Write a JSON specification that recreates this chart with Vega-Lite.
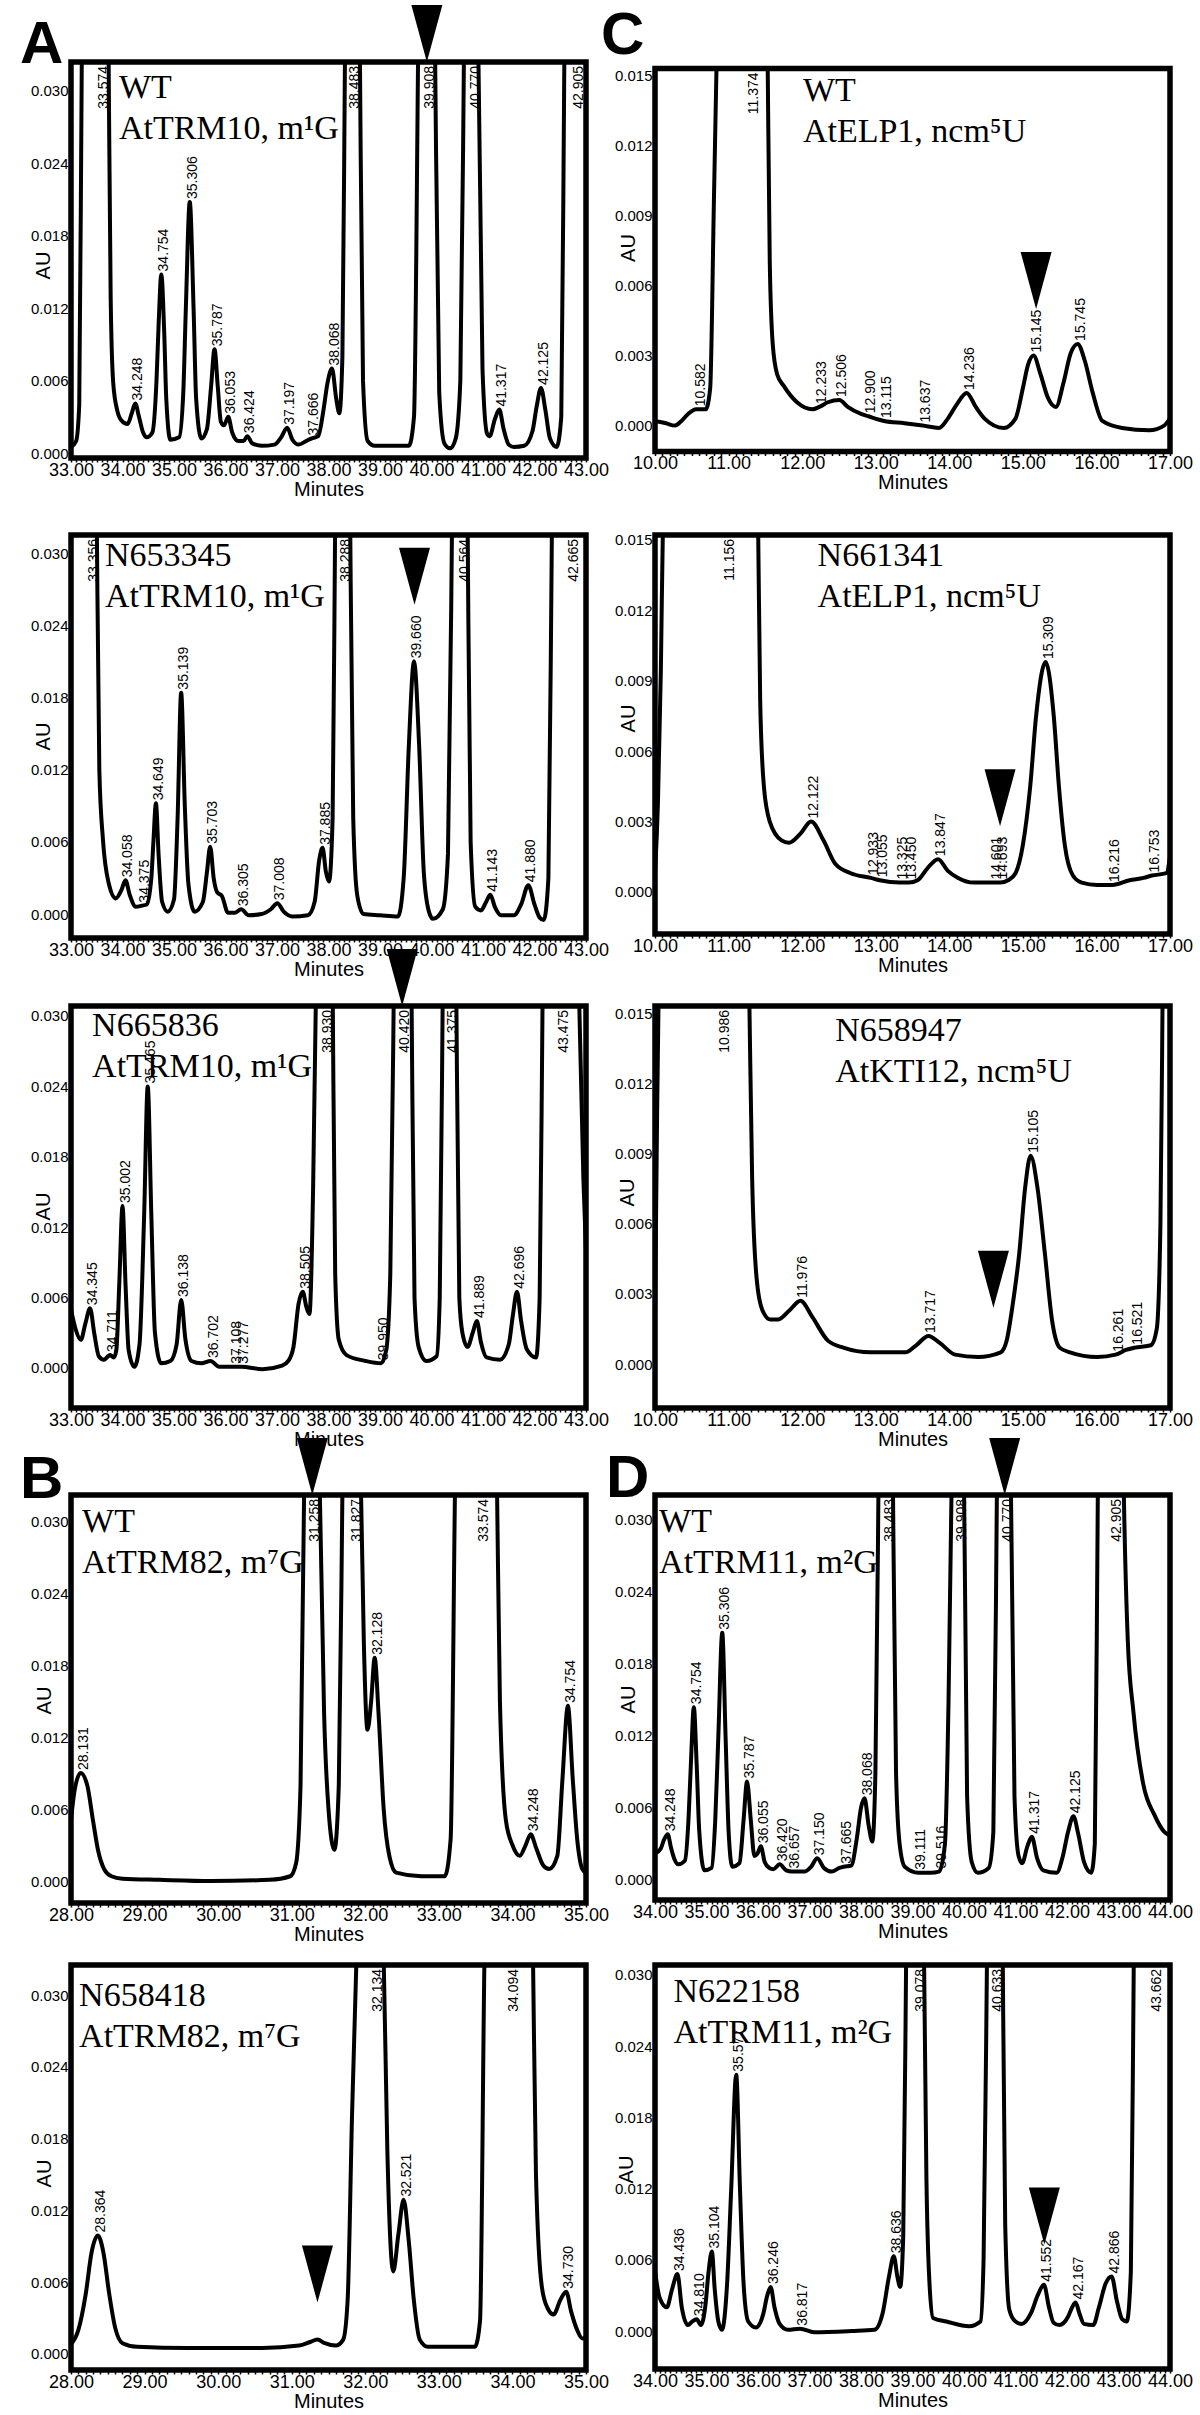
{
"$schema": "https://vega.github.io/schema/vega-lite/v6.json",
"background": "white",
"padding": {"left": 17, "top": 2, "right": 5, "bottom": 0},
"config": {
  "view": {"stroke": "black", "strokeWidth": 5.5},
  "font": "Liberation Sans",
  "axis": {"labelFont": "Liberation Sans", "titleFont": "Liberation Sans", "labelColor": "black", "titleColor": "black", "domain": false, "grid": false, "titleFontWeight": "normal"},
  "axisX": {"labelFontSize": 18, "titleFontSize": 20, "tickColor": "black", "tickSize": 4, "tickWidth": 1.5, "labelPadding": -1, "titlePadding": 0, "labelOverlap": false, "labelFlush": false},
  "axisY": {"labelFontSize": 15, "titleFontSize": 20, "ticks": false, "labelPadding": 3, "titleAngle": 270, "titleAlign": "center", "titleBaseline": "middle", "labelOverlap": false}
},
"columns": 2,
"spacing": {"row": 20, "column": 69},
"bounds": "flush",
"center": true,
"concat": [
{
 "width": 515, "height": 396,
 "data": {"values": [
  {"k":"t","t":33.00,"au":0.0005},{"k":"t","t":33.10,"au":0.0010},{"k":"t","t":33.16,"au":0.0040},{"k":"t","t":33.21,"au":0.033},{"k":"t","t":33.574,"au":0.12},{"k":"t","t":33.73,"au":0.033},{"k":"t","t":33.77,"au":0.013},{"k":"t","t":33.82,"au":0.0058},{"k":"t","t":33.90,"au":0.0035},{"k":"t","t":33.98,"au":0.0027},{"k":"t","t":34.10,"au":0.0024},{"k":"t","t":34.18,"au":0.0033},{"k":"t","t":34.248,"au":0.0041},{"k":"t","t":34.32,"au":0.0030},{"k":"t","t":34.40,"au":0.0017},{"k":"t","t":34.47,"au":0.0013},{"k":"t","t":34.58,"au":0.0017},{"k":"t","t":34.66,"au":0.0060},{"k":"t","t":34.70,"au":0.0105},{"k":"t","t":34.754,"au":0.0148},{"k":"t","t":34.81,"au":0.0100},{"k":"t","t":34.85,"au":0.0045},{"k":"t","t":34.93,"au":0.0011},{"k":"t","t":35.10,"au":0.0013},{"k":"t","t":35.18,"au":0.0050},{"k":"t","t":35.23,"au":0.0120},{"k":"t","t":35.306,"au":0.0208},{"k":"t","t":35.38,"au":0.0120},{"k":"t","t":35.43,"au":0.0045},{"k":"t","t":35.53,"au":0.0012},{"k":"t","t":35.64,"au":0.0020},{"k":"t","t":35.72,"au":0.0055},{"k":"t","t":35.787,"au":0.0086},{"k":"t","t":35.85,"au":0.0055},{"k":"t","t":35.91,"au":0.0026},{"k":"t","t":35.97,"au":0.0023},{"k":"t","t":36.053,"au":0.0030},{"k":"t","t":36.13,"au":0.0017},{"k":"t","t":36.25,"au":0.0010},{"k":"t","t":36.35,"au":0.0010},{"k":"t","t":36.424,"au":0.0014},{"k":"t","t":36.52,"au":0.0008},{"k":"t","t":36.70,"au":0.0006},{"k":"t","t":36.95,"au":0.0007},{"k":"t","t":37.08,"au":0.0013},{"k":"t","t":37.197,"au":0.0021},{"k":"t","t":37.30,"au":0.0011},{"k":"t","t":37.42,"au":0.0007},{"k":"t","t":37.57,"au":0.0010},{"k":"t","t":37.666,"au":0.0012},{"k":"t","t":37.80,"au":0.0014},{"k":"t","t":37.90,"au":0.0035},{"k":"t","t":37.98,"au":0.0058},{"k":"t","t":38.068,"au":0.0070},{"k":"t","t":38.15,"au":0.0045},{"k":"t","t":38.21,"au":0.0033},{"k":"t","t":38.27,"au":0.0080},{"k":"t","t":38.32,"au":0.033},{"k":"t","t":38.483,"au":0.12},{"k":"t","t":38.61,"au":0.033},{"k":"t","t":38.67,"au":0.0060},{"k":"t","t":38.76,"au":0.0010},{"k":"t","t":38.90,"au":0.0006},{"k":"t","t":39.30,"au":0.0006},{"k":"t","t":39.56,"au":0.0006},{"k":"t","t":39.66,"au":0.0030},{"k":"t","t":39.74,"au":0.033},{"k":"t","t":39.908,"au":0.12},{"k":"t","t":40.07,"au":0.033},{"k":"t","t":40.15,"au":0.0050},{"k":"t","t":40.25,"au":0.0008},{"k":"t","t":40.36,"au":0.0004},{"k":"t","t":40.47,"au":0.0012},{"k":"t","t":40.56,"au":0.0060},{"k":"t","t":40.63,"au":0.033},{"k":"t","t":40.78,"au":0.12},{"k":"t","t":40.91,"au":0.033},{"k":"t","t":40.99,"au":0.0070},{"k":"t","t":41.08,"au":0.0016},{"k":"t","t":41.13,"au":0.0014},{"k":"t","t":41.23,"au":0.0028},{"k":"t","t":41.317,"au":0.0036},{"k":"t","t":41.40,"au":0.0020},{"k":"t","t":41.50,"au":0.0007},{"k":"t","t":41.60,"au":0.0005},{"k":"t","t":41.80,"au":0.0006},{"k":"t","t":41.96,"au":0.0018},{"k":"t","t":42.04,"au":0.0038},{"k":"t","t":42.125,"au":0.0054},{"k":"t","t":42.21,"au":0.0036},{"k":"t","t":42.30,"au":0.0012},{"k":"t","t":42.43,"au":0.0005},{"k":"t","t":42.52,"au":0.0030},{"k":"t","t":42.58,"au":0.033},{"k":"t","t":42.905,"au":0.12},{"k":"t","t":43.00,"au":0.12},
  {"k":"p","t":34.248,"au":0.0041,"s":"34.248"},{"k":"p","t":34.754,"au":0.0148,"s":"34.754"},{"k":"p","t":35.306,"au":0.0208,"s":"35.306"},{"k":"p","t":35.787,"au":0.0086,"s":"35.787"},{"k":"p","t":36.053,"au":0.0030,"s":"36.053"},{"k":"p","t":36.424,"au":0.0014,"s":"36.424"},{"k":"p","t":37.197,"au":0.0021,"s":"37.197"},{"k":"p","t":37.666,"au":0.0012,"s":"37.666"},{"k":"p","t":38.068,"au":0.0070,"s":"38.068"},{"k":"p","t":41.317,"au":0.0036,"s":"41.317"},{"k":"p","t":42.125,"au":0.0054,"s":"42.125"},
  {"k":"u","t":33.59,"au":0.0324,"s":"33.574"},{"k":"u","t":38.46,"au":0.0324,"s":"38.483"},{"k":"u","t":39.91,"au":0.0324,"s":"39.908"},{"k":"u","t":40.80,"au":0.0324,"s":"40.770"},{"k":"u","t":42.81,"au":0.0324,"s":"42.905"},
  {"k":"a","t":39.91,"au":0.0324},
  {"k":"c","t":33.93,"au":0.0294,"s":"WT\nAtTRM10, m¹G"},
  {"k":"l","t":32.01,"au":0.0323,"s":"A"}
 ]},
 "layer": [
  {"transform": [{"filter": "datum.k=='t'"}], "mark": {"type": "line", "clip": true, "interpolate": "monotone", "color": "black", "strokeWidth": 4, "strokeJoin": "round"},
   "encoding": {"x": {"field": "t", "type": "quantitative", "scale": {"domain": [33, 43], "nice": false, "zero": false}, "axis": {"title": "Minutes", "tickCount": 100, "labelExpr": "abs(datum.value - round(datum.value)) < 0.001 ? format(datum.value, '.2f') : ''"}},
    "y": {"field": "au", "type": "quantitative", "scale": {"domain": [-0.00041, 0.0324], "nice": false, "zero": false}, "axis": {"title": "AU", "format": ".3f", "values": [0, 0.006, 0.012, 0.018, 0.024, 0.03], "titleX": -28, "titleY": 203}}}},
  {"transform": [{"filter": "datum.k=='p'"}], "mark": {"type": "text", "angle": 270, "align": "left", "baseline": "middle", "dx": 3, "dy": 3, "fontSize": 14, "font": "Liberation Sans", "color": "black"},
   "encoding": {"x": {"field": "t", "type": "quantitative"}, "y": {"field": "au", "type": "quantitative"}, "text": {"field": "s", "type": "nominal"}}},
  {"transform": [{"filter": "datum.k=='u'"}], "mark": {"type": "text", "angle": 270, "align": "right", "baseline": "middle", "dx": -4, "dy": 3, "fontSize": 14, "font": "Liberation Sans", "color": "black"},
   "encoding": {"x": {"field": "t", "type": "quantitative"}, "y": {"field": "au", "type": "quantitative"}, "text": {"field": "s", "type": "nominal"}}},
  {"transform": [{"filter": "datum.k=='a'"}], "mark": {"type": "point", "shape": "M-0.544,-2L0.544,-2L0,0Z", "size": 3249, "filled": true, "color": "black", "opacity": 1, "strokeWidth": 0},
   "encoding": {"x": {"field": "t", "type": "quantitative"}, "y": {"field": "au", "type": "quantitative"}}},
  {"transform": [{"filter": "datum.k=='c'"}], "mark": {"type": "text", "align": "left", "baseline": "alphabetic", "font": "Liberation Serif", "fontSize": 34, "lineBreak": "\n", "lineHeight": 41, "color": "black"},
   "encoding": {"x": {"field": "t", "type": "quantitative"}, "y": {"field": "au", "type": "quantitative"}, "text": {"field": "s", "type": "nominal"}}},
  {"transform": [{"filter": "datum.k=='l'"}], "mark": {"type": "text", "align": "left", "baseline": "alphabetic", "font": "Liberation Sans", "fontSize": 60, "fontWeight": "bold", "color": "black"},
   "encoding": {"x": {"field": "t", "type": "quantitative"}, "y": {"field": "au", "type": "quantitative"}, "text": {"field": "s", "type": "nominal"}}}
 ]
},
{
 "width": 515, "height": 383,
 "data": {"values": [
  {"k":"t","t":10.00,"au":0.0002},{"k":"t","t":10.15,"au":0.0001},{"k":"t","t":10.27,"au":0.0000},{"k":"t","t":10.36,"au":0.0002},{"k":"t","t":10.45,"au":0.0005},{"k":"t","t":10.56,"au":0.0007},{"k":"t","t":10.69,"au":0.0007},{"k":"t","t":10.75,"au":0.0016},{"k":"t","t":10.80,"au":0.0095},{"k":"t","t":10.84,"au":0.016},{"k":"t","t":11.374,"au":0.06},{"k":"t","t":11.53,"au":0.016},{"k":"t","t":11.56,"au":0.0070},{"k":"t","t":11.60,"au":0.0035},{"k":"t","t":11.66,"au":0.0022},{"k":"t","t":11.75,"au":0.0017},{"k":"t","t":11.93,"au":0.0010},{"k":"t","t":12.14,"au":0.0007},{"k":"t","t":12.233,"au":0.0008},{"k":"t","t":12.35,"au":0.0010},{"k":"t","t":12.506,"au":0.0011},{"k":"t","t":12.62,"au":0.0008},{"k":"t","t":12.80,"au":0.0005},{"k":"t","t":12.90,"au":0.0004},{"k":"t","t":13.115,"au":0.0002},{"k":"t","t":13.39,"au":0.0001},{"k":"t","t":13.637,"au":0.0000},{"k":"t","t":13.86,"au":-0.0001},{"k":"t","t":13.98,"au":0.0003},{"k":"t","t":14.10,"au":0.0009},{"k":"t","t":14.236,"au":0.0014},{"k":"t","t":14.36,"au":0.0008},{"k":"t","t":14.48,"au":0.0003},{"k":"t","t":14.74,"au":-0.0001},{"k":"t","t":14.90,"au":0.0003},{"k":"t","t":15.00,"au":0.0016},{"k":"t","t":15.07,"au":0.0026},{"k":"t","t":15.145,"au":0.0030},{"k":"t","t":15.24,"au":0.0022},{"k":"t","t":15.34,"au":0.0012},{"k":"t","t":15.45,"au":0.0008},{"k":"t","t":15.55,"au":0.0018},{"k":"t","t":15.65,"au":0.0031},{"k":"t","t":15.745,"au":0.0035},{"k":"t","t":15.84,"au":0.0028},{"k":"t","t":15.95,"au":0.0014},{"k":"t","t":16.08,"au":0.0002},{"k":"t","t":16.35,"au":-0.0001},{"k":"t","t":16.72,"au":-0.0002},{"k":"t","t":16.92,"au":0.0000},{"k":"t","t":17.00,"au":0.0003},
  {"k":"p","t":10.582,"au":0.0007,"s":"10.582"},{"k":"p","t":12.233,"au":0.0008,"s":"12.233"},{"k":"p","t":12.506,"au":0.0011,"s":"12.506"},{"k":"p","t":12.90,"au":0.0004,"s":"12.900"},{"k":"p","t":13.115,"au":0.0002,"s":"13.115"},{"k":"p","t":13.637,"au":0.0000,"s":"13.637"},{"k":"p","t":14.236,"au":0.0014,"s":"14.236"},{"k":"p","t":15.145,"au":0.0030,"s":"15.145"},{"k":"p","t":15.745,"au":0.0035,"s":"15.745"},
  {"k":"u","t":11.31,"au":0.0153,"s":"11.374"},
  {"k":"a","t":15.18,"au":0.0050},
  {"k":"c","t":12.01,"au":0.0139,"s":"WT\nAtELP1, ncm⁵U"},
  {"k":"l","t":9.266,"au":0.01593,"s":"C"}
 ]},
 "layer": [
  {"transform": [{"filter": "datum.k=='t'"}], "mark": {"type": "line", "clip": true, "interpolate": "monotone", "color": "black", "strokeWidth": 4, "strokeJoin": "round"},
   "encoding": {"x": {"field": "t", "type": "quantitative", "scale": {"domain": [10, 17], "nice": false, "zero": false}, "axis": {"title": "Minutes", "tickCount": 70, "labelExpr": "abs(datum.value - round(datum.value)) < 0.001 ? format(datum.value, '.2f') : ''"}},
    "y": {"field": "au", "type": "quantitative", "scale": {"domain": [-0.00111, 0.0153], "nice": false, "zero": false}, "axis": {"title": "AU", "format": ".3f", "values": [0, 0.003, 0.006, 0.009, 0.012, 0.015], "titleX": -27, "titleY": 179}}}},
  {"transform": [{"filter": "datum.k=='p'"}], "mark": {"type": "text", "angle": 270, "align": "left", "baseline": "middle", "dx": 3, "dy": 3, "fontSize": 14, "font": "Liberation Sans", "color": "black"},
   "encoding": {"x": {"field": "t", "type": "quantitative"}, "y": {"field": "au", "type": "quantitative"}, "text": {"field": "s", "type": "nominal"}}},
  {"transform": [{"filter": "datum.k=='u'"}], "mark": {"type": "text", "angle": 270, "align": "right", "baseline": "middle", "dx": -4, "dy": 3, "fontSize": 14, "font": "Liberation Sans", "color": "black"},
   "encoding": {"x": {"field": "t", "type": "quantitative"}, "y": {"field": "au", "type": "quantitative"}, "text": {"field": "s", "type": "nominal"}}},
  {"transform": [{"filter": "datum.k=='a'"}], "mark": {"type": "point", "shape": "M-0.544,-2L0.544,-2L0,0Z", "size": 3249, "filled": true, "color": "black", "opacity": 1, "strokeWidth": 0},
   "encoding": {"x": {"field": "t", "type": "quantitative"}, "y": {"field": "au", "type": "quantitative"}}},
  {"transform": [{"filter": "datum.k=='c'"}], "mark": {"type": "text", "align": "left", "baseline": "alphabetic", "font": "Liberation Serif", "fontSize": 34, "lineBreak": "\n", "lineHeight": 41, "color": "black"},
   "encoding": {"x": {"field": "t", "type": "quantitative"}, "y": {"field": "au", "type": "quantitative"}, "text": {"field": "s", "type": "nominal"}}},
  {"transform": [{"filter": "datum.k=='l'"}], "mark": {"type": "text", "align": "left", "baseline": "alphabetic", "font": "Liberation Sans", "fontSize": 60, "fontWeight": "bold", "color": "black"},
   "encoding": {"x": {"field": "t", "type": "quantitative"}, "y": {"field": "au", "type": "quantitative"}, "text": {"field": "s", "type": "nominal"}}}
 ]
},
{"width": 515, "height": 37, "data": {"values": []}, "mark": "point", "view": {"stroke": null}},
{"width": 515, "height": 37, "data": {"values": []}, "mark": "point", "view": {"stroke": null}},
{
 "width": 515, "height": 403,
 "data": {"values": [
  {"k":"t","t":33.00,"au":0.03},{"k":"t","t":33.05,"au":0.06},{"k":"t","t":33.356,"au":0.12},{"k":"t","t":33.50,"au":0.033},{"k":"t","t":33.55,"au":0.012},{"k":"t","t":33.62,"au":0.0062},{"k":"t","t":33.73,"au":0.0026},{"k":"t","t":33.87,"au":0.0013},{"k":"t","t":33.98,"au":0.0020},{"k":"t","t":34.058,"au":0.0028},{"k":"t","t":34.14,"au":0.0016},{"k":"t","t":34.26,"au":0.0006},{"k":"t","t":34.375,"au":0.0007},{"k":"t","t":34.47,"au":0.0008},{"k":"t","t":34.56,"au":0.0030},{"k":"t","t":34.60,"au":0.0060},{"k":"t","t":34.649,"au":0.0092},{"k":"t","t":34.70,"au":0.0050},{"k":"t","t":34.77,"au":0.0010},{"k":"t","t":34.88,"au":0.0002},{"k":"t","t":35.00,"au":0.0012},{"k":"t","t":35.07,"au":0.0080},{"k":"t","t":35.139,"au":0.0184},{"k":"t","t":35.21,"au":0.0090},{"k":"t","t":35.28,"au":0.0025},{"k":"t","t":35.40,"au":0.0002},{"k":"t","t":35.56,"au":0.0010},{"k":"t","t":35.64,"au":0.0035},{"k":"t","t":35.703,"au":0.0056},{"k":"t","t":35.77,"au":0.0030},{"k":"t","t":35.84,"au":0.0018},{"k":"t","t":35.93,"au":0.0015},{"k":"t","t":36.05,"au":0.0001},{"k":"t","t":36.18,"au":0.0001},{"k":"t","t":36.305,"au":0.0004},{"k":"t","t":36.45,"au":-0.0001},{"k":"t","t":36.70,"au":0.0000},{"k":"t","t":36.88,"au":0.0004},{"k":"t","t":37.008,"au":0.0009},{"k":"t","t":37.13,"au":0.0002},{"k":"t","t":37.30,"au":-0.0002},{"k":"t","t":37.60,"au":-0.0001},{"k":"t","t":37.73,"au":0.0010},{"k":"t","t":37.82,"au":0.0045},{"k":"t","t":37.885,"au":0.0055},{"k":"t","t":37.95,"au":0.0035},{"k":"t","t":38.01,"au":0.0027},{"k":"t","t":38.08,"au":0.0080},{"k":"t","t":38.13,"au":0.033},{"k":"t","t":38.288,"au":0.12},{"k":"t","t":38.42,"au":0.033},{"k":"t","t":38.48,"au":0.0080},{"k":"t","t":38.56,"au":0.0015},{"k":"t","t":38.68,"au":0.0000},{"k":"t","t":39.00,"au":-0.0001},{"k":"t","t":39.35,"au":-0.0002},{"k":"t","t":39.46,"au":0.0030},{"k":"t","t":39.56,"au":0.0140},{"k":"t","t":39.66,"au":0.0210},{"k":"t","t":39.76,"au":0.0140},{"k":"t","t":39.85,"au":0.0035},{"k":"t","t":39.95,"au":0.0002},{"k":"t","t":40.03,"au":-0.0004},{"k":"t","t":40.22,"au":0.0004},{"k":"t","t":40.32,"au":0.0050},{"k":"t","t":40.40,"au":0.033},{"k":"t","t":40.56,"au":0.12},{"k":"t","t":40.70,"au":0.033},{"k":"t","t":40.76,"au":0.0060},{"k":"t","t":40.85,"au":0.0006},{"k":"t","t":40.96,"au":0.0003},{"k":"t","t":41.06,"au":0.0010},{"k":"t","t":41.143,"au":0.0016},{"k":"t","t":41.23,"au":0.0006},{"k":"t","t":41.35,"au":-0.0001},{"k":"t","t":41.60,"au":-0.0001},{"k":"t","t":41.74,"au":0.0008},{"k":"t","t":41.88,"au":0.0024},{"k":"t","t":42.00,"au":0.0008},{"k":"t","t":42.10,"au":-0.0003},{"k":"t","t":42.18,"au":-0.0005},{"k":"t","t":42.27,"au":0.0030},{"k":"t","t":42.34,"au":0.033},{"k":"t","t":42.665,"au":0.12},{"k":"t","t":43.00,"au":0.12},
  {"k":"p","t":34.058,"au":0.0028,"s":"34.058"},{"k":"p","t":34.375,"au":0.0007,"s":"34.375"},{"k":"p","t":34.649,"au":0.0092,"s":"34.649"},{"k":"p","t":35.139,"au":0.0184,"s":"35.139"},{"k":"p","t":35.703,"au":0.0056,"s":"35.703"},{"k":"p","t":36.305,"au":0.0004,"s":"36.305"},{"k":"p","t":37.008,"au":0.0009,"s":"37.008"},{"k":"p","t":37.885,"au":0.0055,"s":"37.885"},{"k":"p","t":39.66,"au":0.0210,"s":"39.660"},{"k":"p","t":41.143,"au":0.0016,"s":"41.143"},{"k":"p","t":41.88,"au":0.0024,"s":"41.880"},
  {"k":"u","t":33.39,"au":0.0315,"s":"33.356"},{"k":"u","t":38.29,"au":0.0315,"s":"38.288"},{"k":"u","t":40.59,"au":0.0315,"s":"40.564"},{"k":"u","t":42.70,"au":0.0315,"s":"42.665"},
  {"k":"a","t":39.67,"au":0.0257},
  {"k":"c","t":33.66,"au":0.0289,"s":"N653345\nAtTRM10, m¹G"}
 ]},
 "layer": [
  {"transform": [{"filter": "datum.k=='t'"}], "mark": {"type": "line", "clip": true, "interpolate": "monotone", "color": "black", "strokeWidth": 4, "strokeJoin": "round"},
   "encoding": {"x": {"field": "t", "type": "quantitative", "scale": {"domain": [33, 43], "nice": false, "zero": false}, "axis": {"title": "Minutes", "tickCount": 100, "labelExpr": "abs(datum.value - round(datum.value)) < 0.001 ? format(datum.value, '.2f') : ''"}},
    "y": {"field": "au", "type": "quantitative", "scale": {"domain": [-0.00199, 0.0315], "nice": false, "zero": false}, "axis": {"title": "AU", "format": ".3f", "values": [0, 0.006, 0.012, 0.018, 0.024, 0.03], "titleX": -28, "titleY": 201}}}},
  {"transform": [{"filter": "datum.k=='p'"}], "mark": {"type": "text", "angle": 270, "align": "left", "baseline": "middle", "dx": 3, "dy": 3, "fontSize": 14, "font": "Liberation Sans", "color": "black"},
   "encoding": {"x": {"field": "t", "type": "quantitative"}, "y": {"field": "au", "type": "quantitative"}, "text": {"field": "s", "type": "nominal"}}},
  {"transform": [{"filter": "datum.k=='u'"}], "mark": {"type": "text", "angle": 270, "align": "right", "baseline": "middle", "dx": -4, "dy": 3, "fontSize": 14, "font": "Liberation Sans", "color": "black"},
   "encoding": {"x": {"field": "t", "type": "quantitative"}, "y": {"field": "au", "type": "quantitative"}, "text": {"field": "s", "type": "nominal"}}},
  {"transform": [{"filter": "datum.k=='a'"}], "mark": {"type": "point", "shape": "M-0.544,-2L0.544,-2L0,0Z", "size": 3249, "filled": true, "color": "black", "opacity": 1, "strokeWidth": 0},
   "encoding": {"x": {"field": "t", "type": "quantitative"}, "y": {"field": "au", "type": "quantitative"}}},
  {"transform": [{"filter": "datum.k=='c'"}], "mark": {"type": "text", "align": "left", "baseline": "alphabetic", "font": "Liberation Serif", "fontSize": 34, "lineBreak": "\n", "lineHeight": 41, "color": "black"},
   "encoding": {"x": {"field": "t", "type": "quantitative"}, "y": {"field": "au", "type": "quantitative"}, "text": {"field": "s", "type": "nominal"}}}
 ]
},
{
 "width": 515, "height": 399,
 "data": {"values": [
  {"k":"t","t":10.00,"au":0.0008},{"k":"t","t":10.04,"au":0.0038},{"k":"t","t":10.08,"au":0.0095},{"k":"t","t":10.11,"au":0.016},{"k":"t","t":10.96,"au":0.06},{"k":"t","t":11.40,"au":0.016},{"k":"t","t":11.43,"au":0.0081},{"k":"t","t":11.48,"au":0.0045},{"k":"t","t":11.56,"au":0.0030},{"k":"t","t":11.72,"au":0.0022},{"k":"t","t":11.82,"au":0.0021},{"k":"t","t":11.98,"au":0.0025},{"k":"t","t":12.122,"au":0.0030},{"k":"t","t":12.29,"au":0.0022},{"k":"t","t":12.45,"au":0.0012},{"k":"t","t":12.66,"au":0.0008},{"k":"t","t":12.933,"au":0.0006},{"k":"t","t":13.055,"au":0.0005},{"k":"t","t":13.325,"au":0.0004},{"k":"t","t":13.45,"au":0.0004},{"k":"t","t":13.57,"au":0.0005},{"k":"t","t":13.70,"au":0.0010},{"k":"t","t":13.847,"au":0.0014},{"k":"t","t":13.98,"au":0.0009},{"k":"t","t":14.12,"au":0.0006},{"k":"t","t":14.33,"au":0.0004},{"k":"t","t":14.601,"au":0.0004},{"k":"t","t":14.693,"au":0.0004},{"k":"t","t":14.80,"au":0.0005},{"k":"t","t":14.90,"au":0.0008},{"k":"t","t":15.00,"au":0.0020},{"k":"t","t":15.10,"au":0.0045},{"k":"t","t":15.18,"au":0.0075},{"k":"t","t":15.309,"au":0.0098},{"k":"t","t":15.42,"au":0.0075},{"k":"t","t":15.49,"au":0.0045},{"k":"t","t":15.57,"au":0.0020},{"k":"t","t":15.68,"au":0.0007},{"k":"t","t":15.80,"au":0.0004},{"k":"t","t":16.01,"au":0.0003},{"k":"t","t":16.216,"au":0.0003},{"k":"t","t":16.45,"au":0.0005},{"k":"t","t":16.64,"au":0.0006},{"k":"t","t":16.753,"au":0.0007},{"k":"t","t":16.95,"au":0.0008},{"k":"t","t":17.00,"au":0.0015},
  {"k":"p","t":12.122,"au":0.0030,"s":"12.122"},{"k":"p","t":12.933,"au":0.0006,"s":"12.933"},{"k":"p","t":13.055,"au":0.0005,"s":"13.055"},{"k":"p","t":13.325,"au":0.0004,"s":"13.325"},{"k":"p","t":13.45,"au":0.0004,"s":"13.450"},{"k":"p","t":13.847,"au":0.0014,"s":"13.847"},{"k":"p","t":14.601,"au":0.0004,"s":"14.601"},{"k":"p","t":14.693,"au":0.0004,"s":"14.693"},{"k":"p","t":15.309,"au":0.0098,"s":"15.309"},{"k":"p","t":16.216,"au":0.0003,"s":"16.216"},{"k":"p","t":16.753,"au":0.0007,"s":"16.753"},
  {"k":"u","t":10.98,"au":0.01521,"s":"11.156"},
  {"k":"a","t":14.69,"au":0.0028},
  {"k":"c","t":12.21,"au":0.0139,"s":"N661341\nAtELP1, ncm⁵U"}
 ]},
 "layer": [
  {"transform": [{"filter": "datum.k=='t'"}], "mark": {"type": "line", "clip": true, "interpolate": "monotone", "color": "black", "strokeWidth": 4, "strokeJoin": "round"},
   "encoding": {"x": {"field": "t", "type": "quantitative", "scale": {"domain": [10, 17], "nice": false, "zero": false}, "axis": {"title": "Minutes", "tickCount": 70, "labelExpr": "abs(datum.value - round(datum.value)) < 0.001 ? format(datum.value, '.2f') : ''"}},
    "y": {"field": "au", "type": "quantitative", "scale": {"domain": [-0.00179, 0.01521], "nice": false, "zero": false}, "axis": {"title": "AU", "format": ".3f", "values": [0, 0.003, 0.006, 0.009, 0.012, 0.015], "titleX": -27, "titleY": 183}}}},
  {"transform": [{"filter": "datum.k=='p'"}], "mark": {"type": "text", "angle": 270, "align": "left", "baseline": "middle", "dx": 3, "dy": 3, "fontSize": 14, "font": "Liberation Sans", "color": "black"},
   "encoding": {"x": {"field": "t", "type": "quantitative"}, "y": {"field": "au", "type": "quantitative"}, "text": {"field": "s", "type": "nominal"}}},
  {"transform": [{"filter": "datum.k=='u'"}], "mark": {"type": "text", "angle": 270, "align": "right", "baseline": "middle", "dx": -4, "dy": 3, "fontSize": 14, "font": "Liberation Sans", "color": "black"},
   "encoding": {"x": {"field": "t", "type": "quantitative"}, "y": {"field": "au", "type": "quantitative"}, "text": {"field": "s", "type": "nominal"}}},
  {"transform": [{"filter": "datum.k=='a'"}], "mark": {"type": "point", "shape": "M-0.544,-2L0.544,-2L0,0Z", "size": 3249, "filled": true, "color": "black", "opacity": 1, "strokeWidth": 0},
   "encoding": {"x": {"field": "t", "type": "quantitative"}, "y": {"field": "au", "type": "quantitative"}}},
  {"transform": [{"filter": "datum.k=='c'"}], "mark": {"type": "text", "align": "left", "baseline": "alphabetic", "font": "Liberation Serif", "fontSize": 34, "lineBreak": "\n", "lineHeight": 41, "color": "black"},
   "encoding": {"x": {"field": "t", "type": "quantitative"}, "y": {"field": "au", "type": "quantitative"}, "text": {"field": "s", "type": "nominal"}}}
 ]
},
{"width": 515, "height": 28, "data": {"values": []}, "mark": "point", "view": {"stroke": null}},
{"width": 515, "height": 28, "data": {"values": []}, "mark": "point", "view": {"stroke": null}},
{
 "width": 515, "height": 402,
 "data": {"values": [
  {"k":"t","t":33.00,"au":0.0050},{"k":"t","t":33.09,"au":0.0033},{"k":"t","t":33.19,"au":0.0024},{"k":"t","t":33.28,"au":0.0038},{"k":"t","t":33.37,"au":0.0051},{"k":"t","t":33.45,"au":0.0030},{"k":"t","t":33.54,"au":0.0010},{"k":"t","t":33.64,"au":0.0007},{"k":"t","t":33.72,"au":0.0010},{"k":"t","t":33.76,"au":0.0011},{"k":"t","t":33.83,"au":0.0009},{"k":"t","t":33.88,"au":0.0015},{"k":"t","t":33.94,"au":0.0075},{"k":"t","t":34.00,"au":0.0138},{"k":"t","t":34.06,"au":0.0070},{"k":"t","t":34.12,"au":0.0015},{"k":"t","t":34.23,"au":0.0001},{"k":"t","t":34.33,"au":0.0020},{"k":"t","t":34.42,"au":0.0130},{"k":"t","t":34.49,"au":0.0240},{"k":"t","t":34.56,"au":0.0130},{"k":"t","t":34.63,"au":0.0030},{"k":"t","t":34.75,"au":0.0004},{"k":"t","t":34.93,"au":0.0006},{"k":"t","t":35.05,"au":0.0020},{"k":"t","t":35.14,"au":0.0058},{"k":"t","t":35.22,"au":0.0025},{"k":"t","t":35.34,"au":0.0006},{"k":"t","t":35.53,"au":0.0004},{"k":"t","t":35.71,"au":0.0006},{"k":"t","t":35.88,"au":0.0001},{"k":"t","t":36.16,"au":0.0001},{"k":"t","t":36.31,"au":0.0001},{"k":"t","t":36.72,"au":-0.0001},{"k":"t","t":37.10,"au":0.0002},{"k":"t","t":37.22,"au":0.0006},{"k":"t","t":37.32,"au":0.0018},{"k":"t","t":37.42,"au":0.0055},{"k":"t","t":37.50,"au":0.0065},{"k":"t","t":37.57,"au":0.0052},{"k":"t","t":37.63,"au":0.0046},{"k":"t","t":37.70,"au":0.0150},{"k":"t","t":37.76,"au":0.033},{"k":"t","t":37.94,"au":0.12},{"k":"t","t":38.08,"au":0.033},{"k":"t","t":38.13,"au":0.0080},{"k":"t","t":38.20,"au":0.0024},{"k":"t","t":38.35,"au":0.0011},{"k":"t","t":38.72,"au":0.0006},{"k":"t","t":39.02,"au":0.0004},{"k":"t","t":39.12,"au":0.0015},{"k":"t","t":39.20,"au":0.0080},{"k":"t","t":39.27,"au":0.033},{"k":"t","t":39.43,"au":0.12},{"k":"t","t":39.61,"au":0.033},{"k":"t","t":39.67,"au":0.0060},{"k":"t","t":39.75,"au":0.0018},{"k":"t","t":39.90,"au":0.0006},{"k":"t","t":40.10,"au":0.0010},{"k":"t","t":40.16,"au":0.0060},{"k":"t","t":40.22,"au":0.033},{"k":"t","t":40.36,"au":0.12},{"k":"t","t":40.48,"au":0.033},{"k":"t","t":40.54,"au":0.0060},{"k":"t","t":40.60,"au":0.0030},{"k":"t","t":40.70,"au":0.0018},{"k":"t","t":40.80,"au":0.0030},{"k":"t","t":40.88,"au":0.0040},{"k":"t","t":40.96,"au":0.0022},{"k":"t","t":41.07,"au":0.0009},{"k":"t","t":41.33,"au":0.0007},{"k":"t","t":41.50,"au":0.0020},{"k":"t","t":41.58,"au":0.0045},{"k":"t","t":41.66,"au":0.0065},{"k":"t","t":41.74,"au":0.0040},{"k":"t","t":41.85,"au":0.0016},{"k":"t","t":42.03,"au":0.0009},{"k":"t","t":42.10,"au":0.0060},{"k":"t","t":42.16,"au":0.033},{"k":"t","t":42.52,"au":0.12},{"k":"t","t":42.86,"au":0.033},{"k":"t","t":42.95,"au":0.016},{"k":"t","t":43.00,"au":0.010},
  {"k":"p","t":33.37,"au":0.0051,"s":"34.345"},{"k":"p","t":33.76,"au":0.0011,"s":"34.711"},{"k":"p","t":34.00,"au":0.0138,"s":"35.002"},{"k":"p","t":34.49,"au":0.0240,"s":"35.465"},{"k":"p","t":35.14,"au":0.0058,"s":"36.138"},{"k":"p","t":35.71,"au":0.0006,"s":"36.702"},{"k":"p","t":36.16,"au":0.0001,"s":"37.108"},{"k":"p","t":36.31,"au":0.0001,"s":"37.277"},{"k":"p","t":37.50,"au":0.0065,"s":"38.505"},{"k":"p","t":39.02,"au":0.0004,"s":"39.950"},{"k":"p","t":40.88,"au":0.0040,"s":"41.889"},{"k":"p","t":41.66,"au":0.0065,"s":"42.696"},
  {"k":"u","t":37.94,"au":0.03085,"s":"38.930"},{"k":"u","t":39.43,"au":0.03085,"s":"40.420"},{"k":"u","t":40.36,"au":0.03085,"s":"41.375"},{"k":"u","t":42.52,"au":0.03085,"s":"43.475"},
  {"k":"a","t":39.43,"au":0.03085},
  {"k":"c","t":33.41,"au":0.0283,"s":"N665836\nAtTRM10, m¹G"}
 ]},
 "layer": [
  {"transform": [{"filter": "datum.k=='t'"}], "mark": {"type": "line", "clip": true, "interpolate": "monotone", "color": "black", "strokeWidth": 4, "strokeJoin": "round"},
   "encoding": {"x": {"field": "t", "type": "quantitative", "scale": {"domain": [33, 43], "nice": false, "zero": false}, "axis": {"title": "Minutes", "tickCount": 100, "labelExpr": "abs(datum.value - round(datum.value)) < 0.001 ? format(datum.value, '.2f') : ''"}},
    "y": {"field": "au", "type": "quantitative", "scale": {"domain": [-0.00341, 0.03085], "nice": false, "zero": false}, "axis": {"title": "AU", "format": ".3f", "values": [0, 0.006, 0.012, 0.018, 0.024, 0.03], "titleX": -28, "titleY": 200}}}},
  {"transform": [{"filter": "datum.k=='p'"}], "mark": {"type": "text", "angle": 270, "align": "left", "baseline": "middle", "dx": 3, "dy": 3, "fontSize": 14, "font": "Liberation Sans", "color": "black"},
   "encoding": {"x": {"field": "t", "type": "quantitative"}, "y": {"field": "au", "type": "quantitative"}, "text": {"field": "s", "type": "nominal"}}},
  {"transform": [{"filter": "datum.k=='u'"}], "mark": {"type": "text", "angle": 270, "align": "right", "baseline": "middle", "dx": -4, "dy": 3, "fontSize": 14, "font": "Liberation Sans", "color": "black"},
   "encoding": {"x": {"field": "t", "type": "quantitative"}, "y": {"field": "au", "type": "quantitative"}, "text": {"field": "s", "type": "nominal"}}},
  {"transform": [{"filter": "datum.k=='a'"}], "mark": {"type": "point", "shape": "M-0.544,-2L0.544,-2L0,0Z", "size": 3249, "filled": true, "color": "black", "opacity": 1, "strokeWidth": 0},
   "encoding": {"x": {"field": "t", "type": "quantitative"}, "y": {"field": "au", "type": "quantitative"}}},
  {"transform": [{"filter": "datum.k=='c'"}], "mark": {"type": "text", "align": "left", "baseline": "alphabetic", "font": "Liberation Serif", "fontSize": 34, "lineBreak": "\n", "lineHeight": 41, "color": "black"},
   "encoding": {"x": {"field": "t", "type": "quantitative"}, "y": {"field": "au", "type": "quantitative"}, "text": {"field": "s", "type": "nominal"}}}
 ]
},
{
 "width": 515, "height": 402,
 "data": {"values": [
  {"k":"t","t":10.00,"au":0.0020},{"k":"t","t":10.02,"au":0.0080},{"k":"t","t":10.05,"au":0.016},{"k":"t","t":10.91,"au":0.06},{"k":"t","t":11.28,"au":0.016},{"k":"t","t":11.32,"au":0.0080},{"k":"t","t":11.38,"au":0.0037},{"k":"t","t":11.46,"au":0.0023},{"k":"t","t":11.57,"au":0.0019},{"k":"t","t":11.67,"au":0.0019},{"k":"t","t":11.83,"au":0.0023},{"k":"t","t":11.976,"au":0.0027},{"k":"t","t":12.14,"au":0.0020},{"k":"t","t":12.35,"au":0.0010},{"k":"t","t":12.56,"au":0.0007},{"k":"t","t":12.93,"au":0.0005},{"k":"t","t":13.40,"au":0.0005},{"k":"t","t":13.55,"au":0.0008},{"k":"t","t":13.717,"au":0.0012},{"k":"t","t":13.87,"au":0.0009},{"k":"t","t":14.08,"au":0.0004},{"k":"t","t":14.39,"au":0.0003},{"k":"t","t":14.70,"au":0.0005},{"k":"t","t":14.78,"au":0.0010},{"k":"t","t":14.86,"au":0.0025},{"k":"t","t":14.95,"au":0.0047},{"k":"t","t":15.03,"au":0.0075},{"k":"t","t":15.105,"au":0.0089},{"k":"t","t":15.20,"au":0.0075},{"k":"t","t":15.30,"au":0.0047},{"k":"t","t":15.40,"au":0.0018},{"k":"t","t":15.50,"au":0.0007},{"k":"t","t":15.64,"au":0.0005},{"k":"t","t":16.01,"au":0.0003},{"k":"t","t":16.261,"au":0.0004},{"k":"t","t":16.40,"au":0.0006},{"k":"t","t":16.521,"au":0.0007},{"k":"t","t":16.74,"au":0.0008},{"k":"t","t":16.82,"au":0.0015},{"k":"t","t":16.87,"au":0.0060},{"k":"t","t":16.90,"au":0.016},{"k":"t","t":17.00,"au":0.06},
  {"k":"p","t":11.976,"au":0.0027,"s":"11.976"},{"k":"p","t":13.717,"au":0.0012,"s":"13.717"},{"k":"p","t":15.105,"au":0.0089,"s":"15.105"},{"k":"p","t":16.261,"au":0.0004,"s":"16.261"},{"k":"p","t":16.521,"au":0.0007,"s":"16.521"},
  {"k":"u","t":10.91,"au":0.0153,"s":"10.986"},
  {"k":"a","t":14.60,"au":0.0024},
  {"k":"c","t":12.45,"au":0.0138,"s":"N658947\nAtKTI12, ncm⁵U"}
 ]},
 "layer": [
  {"transform": [{"filter": "datum.k=='t'"}], "mark": {"type": "line", "clip": true, "interpolate": "monotone", "color": "black", "strokeWidth": 4, "strokeJoin": "round"},
   "encoding": {"x": {"field": "t", "type": "quantitative", "scale": {"domain": [10, 17], "nice": false, "zero": false}, "axis": {"title": "Minutes", "tickCount": 70, "labelExpr": "abs(datum.value - round(datum.value)) < 0.001 ? format(datum.value, '.2f') : ''"}},
    "y": {"field": "au", "type": "quantitative", "scale": {"domain": [-0.00188, 0.0153], "nice": false, "zero": false}, "axis": {"title": "AU", "format": ".3f", "values": [0, 0.003, 0.006, 0.009, 0.012, 0.015], "titleX": -28, "titleY": 186}}}},
  {"transform": [{"filter": "datum.k=='p'"}], "mark": {"type": "text", "angle": 270, "align": "left", "baseline": "middle", "dx": 3, "dy": 3, "fontSize": 14, "font": "Liberation Sans", "color": "black"},
   "encoding": {"x": {"field": "t", "type": "quantitative"}, "y": {"field": "au", "type": "quantitative"}, "text": {"field": "s", "type": "nominal"}}},
  {"transform": [{"filter": "datum.k=='u'"}], "mark": {"type": "text", "angle": 270, "align": "right", "baseline": "middle", "dx": -4, "dy": 3, "fontSize": 14, "font": "Liberation Sans", "color": "black"},
   "encoding": {"x": {"field": "t", "type": "quantitative"}, "y": {"field": "au", "type": "quantitative"}, "text": {"field": "s", "type": "nominal"}}},
  {"transform": [{"filter": "datum.k=='a'"}], "mark": {"type": "point", "shape": "M-0.544,-2L0.544,-2L0,0Z", "size": 3249, "filled": true, "color": "black", "opacity": 1, "strokeWidth": 0},
   "encoding": {"x": {"field": "t", "type": "quantitative"}, "y": {"field": "au", "type": "quantitative"}}},
  {"transform": [{"filter": "datum.k=='c'"}], "mark": {"type": "text", "align": "left", "baseline": "alphabetic", "font": "Liberation Serif", "fontSize": 34, "lineBreak": "\n", "lineHeight": 41, "color": "black"},
   "encoding": {"x": {"field": "t", "type": "quantitative"}, "y": {"field": "au", "type": "quantitative"}, "text": {"field": "s", "type": "nominal"}}}
 ]
},
{"width": 515, "height": 47, "data": {"values": []}, "mark": "point", "view": {"stroke": null}},
{"width": 515, "height": 47, "data": {"values": []}, "mark": "point", "view": {"stroke": null}},
{
 "width": 515, "height": 408,
 "data": {"values": [
  {"k":"t","t":28.00,"au":0.0051},{"k":"t","t":28.05,"au":0.0076},{"k":"t","t":28.131,"au":0.0090},{"k":"t","t":28.22,"au":0.0080},{"k":"t","t":28.30,"au":0.0050},{"k":"t","t":28.37,"au":0.0025},{"k":"t","t":28.45,"au":0.0010},{"k":"t","t":28.55,"au":0.0004},{"k":"t","t":28.70,"au":0.0002},{"k":"t","t":29.20,"au":0.0001},{"k":"t","t":29.90,"au":0.0000},{"k":"t","t":30.70,"au":0.0001},{"k":"t","t":30.98,"au":0.0004},{"k":"t","t":31.06,"au":0.0015},{"k":"t","t":31.12,"au":0.0080},{"k":"t","t":31.17,"au":0.033},{"k":"t","t":31.258,"au":0.12},{"k":"t","t":31.38,"au":0.033},{"k":"t","t":31.44,"au":0.014},{"k":"t","t":31.50,"au":0.0060},{"k":"t","t":31.58,"au":0.0026},{"k":"t","t":31.64,"au":0.0080},{"k":"t","t":31.69,"au":0.033},{"k":"t","t":31.827,"au":0.12},{"k":"t","t":31.94,"au":0.033},{"k":"t","t":31.98,"au":0.020},{"k":"t","t":32.03,"au":0.0126},{"k":"t","t":32.08,"au":0.0150},{"k":"t","t":32.128,"au":0.0186},{"k":"t","t":32.18,"au":0.0140},{"k":"t","t":32.25,"au":0.0060},{"k":"t","t":32.33,"au":0.0020},{"k":"t","t":32.42,"au":0.0007},{"k":"t","t":32.76,"au":0.0004},{"k":"t","t":33.08,"au":0.0004},{"k":"t","t":33.16,"au":0.0035},{"k":"t","t":33.22,"au":0.033},{"k":"t","t":33.574,"au":0.12},{"k":"t","t":33.79,"au":0.033},{"k":"t","t":33.83,"au":0.015},{"k":"t","t":33.91,"au":0.0051},{"k":"t","t":34.00,"au":0.0030},{"k":"t","t":34.10,"au":0.0021},{"k":"t","t":34.18,"au":0.0030},{"k":"t","t":34.248,"au":0.0039},{"k":"t","t":34.32,"au":0.0028},{"k":"t","t":34.42,"au":0.0013},{"k":"t","t":34.50,"au":0.0010},{"k":"t","t":34.61,"au":0.0021},{"k":"t","t":34.68,"au":0.0085},{"k":"t","t":34.754,"au":0.0146},{"k":"t","t":34.82,"au":0.0085},{"k":"t","t":34.88,"au":0.0035},{"k":"t","t":34.95,"au":0.0010},{"k":"t","t":35.00,"au":0.0007},
  {"k":"p","t":28.131,"au":0.0090,"s":"28.131"},{"k":"p","t":32.128,"au":0.0186,"s":"32.128"},{"k":"p","t":34.248,"au":0.0039,"s":"34.248"},{"k":"p","t":34.754,"au":0.0146,"s":"34.754"},
  {"k":"u","t":31.28,"au":0.03217,"s":"31.258"},{"k":"u","t":31.85,"au":0.03217,"s":"31.827"},{"k":"u","t":33.57,"au":0.03217,"s":"33.574"},
  {"k":"a","t":31.28,"au":0.03217},
  {"k":"c","t":28.15,"au":0.0291,"s":"WT\nAtTRM82, m⁷G"},
  {"k":"l","t":27.307,"au":0.0319,"s":"B"}
 ]},
 "layer": [
  {"transform": [{"filter": "datum.k=='t'"}], "mark": {"type": "line", "clip": true, "interpolate": "monotone", "color": "black", "strokeWidth": 4, "strokeJoin": "round"},
   "encoding": {"x": {"field": "t", "type": "quantitative", "scale": {"domain": [28, 35], "nice": false, "zero": false}, "axis": {"title": "Minutes", "tickCount": 70, "labelExpr": "abs(datum.value - round(datum.value)) < 0.001 ? format(datum.value, '.2f') : ''"}},
    "y": {"field": "au", "type": "quantitative", "scale": {"domain": [-0.00183, 0.03217], "nice": false, "zero": false}, "axis": {"title": "AU", "format": ".3f", "values": [0, 0.006, 0.012, 0.018, 0.024, 0.03], "titleX": -27, "titleY": 205}}}},
  {"transform": [{"filter": "datum.k=='p'"}], "mark": {"type": "text", "angle": 270, "align": "left", "baseline": "middle", "dx": 3, "dy": 3, "fontSize": 14, "font": "Liberation Sans", "color": "black"},
   "encoding": {"x": {"field": "t", "type": "quantitative"}, "y": {"field": "au", "type": "quantitative"}, "text": {"field": "s", "type": "nominal"}}},
  {"transform": [{"filter": "datum.k=='u'"}], "mark": {"type": "text", "angle": 270, "align": "right", "baseline": "middle", "dx": -4, "dy": 3, "fontSize": 14, "font": "Liberation Sans", "color": "black"},
   "encoding": {"x": {"field": "t", "type": "quantitative"}, "y": {"field": "au", "type": "quantitative"}, "text": {"field": "s", "type": "nominal"}}},
  {"transform": [{"filter": "datum.k=='a'"}], "mark": {"type": "point", "shape": "M-0.544,-2L0.544,-2L0,0Z", "size": 3249, "filled": true, "color": "black", "opacity": 1, "strokeWidth": 0},
   "encoding": {"x": {"field": "t", "type": "quantitative"}, "y": {"field": "au", "type": "quantitative"}}},
  {"transform": [{"filter": "datum.k=='c'"}], "mark": {"type": "text", "align": "left", "baseline": "alphabetic", "font": "Liberation Serif", "fontSize": 34, "lineBreak": "\n", "lineHeight": 41, "color": "black"},
   "encoding": {"x": {"field": "t", "type": "quantitative"}, "y": {"field": "au", "type": "quantitative"}, "text": {"field": "s", "type": "nominal"}}},
  {"transform": [{"filter": "datum.k=='l'"}], "mark": {"type": "text", "align": "left", "baseline": "alphabetic", "font": "Liberation Sans", "fontSize": 60, "fontWeight": "bold", "color": "black"},
   "encoding": {"x": {"field": "t", "type": "quantitative"}, "y": {"field": "au", "type": "quantitative"}, "text": {"field": "s", "type": "nominal"}}}
 ]
},
{
 "width": 515, "height": 405,
 "data": {"values": [
  {"k":"t","t":34.00,"au":0.0022},{"k":"t","t":34.11,"au":0.0026},{"k":"t","t":34.18,"au":0.0034},{"k":"t","t":34.248,"au":0.0038},{"k":"t","t":34.31,"au":0.0027},{"k":"t","t":34.38,"au":0.0017},{"k":"t","t":34.45,"au":0.0013},{"k":"t","t":34.58,"au":0.0016},{"k":"t","t":34.65,"au":0.0050},{"k":"t","t":34.70,"au":0.0100},{"k":"t","t":34.754,"au":0.0144},{"k":"t","t":34.81,"au":0.0095},{"k":"t","t":34.86,"au":0.0040},{"k":"t","t":34.96,"au":0.0008},{"k":"t","t":35.10,"au":0.0010},{"k":"t","t":35.17,"au":0.0050},{"k":"t","t":35.23,"au":0.0120},{"k":"t","t":35.306,"au":0.0206},{"k":"t","t":35.37,"au":0.0120},{"k":"t","t":35.43,"au":0.0040},{"k":"t","t":35.50,"au":0.0011},{"k":"t","t":35.64,"au":0.0014},{"k":"t","t":35.72,"au":0.0050},{"k":"t","t":35.787,"au":0.0082},{"k":"t","t":35.86,"au":0.0050},{"k":"t","t":35.93,"au":0.0020},{"k":"t","t":35.99,"au":0.0022},{"k":"t","t":36.055,"au":0.0028},{"k":"t","t":36.13,"au":0.0015},{"k":"t","t":36.22,"au":0.0010},{"k":"t","t":36.30,"au":0.0009},{"k":"t","t":36.42,"au":0.0013},{"k":"t","t":36.55,"au":0.0008},{"k":"t","t":36.657,"au":0.0007},{"k":"t","t":36.90,"au":0.0007},{"k":"t","t":37.03,"au":0.0011},{"k":"t","t":37.15,"au":0.0018},{"k":"t","t":37.28,"au":0.0010},{"k":"t","t":37.43,"au":0.0007},{"k":"t","t":37.58,"au":0.0010},{"k":"t","t":37.665,"au":0.0011},{"k":"t","t":37.81,"au":0.0012},{"k":"t","t":37.92,"au":0.0035},{"k":"t","t":38.00,"au":0.0060},{"k":"t","t":38.068,"au":0.0068},{"k":"t","t":38.15,"au":0.0045},{"k":"t","t":38.22,"au":0.0032},{"k":"t","t":38.28,"au":0.0090},{"k":"t","t":38.34,"au":0.033},{"k":"t","t":38.483,"au":0.12},{"k":"t","t":38.62,"au":0.033},{"k":"t","t":38.68,"au":0.0090},{"k":"t","t":38.75,"au":0.0030},{"k":"t","t":38.85,"au":0.0011},{"k":"t","t":39.111,"au":0.0006},{"k":"t","t":39.35,"au":0.0006},{"k":"t","t":39.516,"au":0.0007},{"k":"t","t":39.63,"au":0.0030},{"k":"t","t":39.70,"au":0.0150},{"k":"t","t":39.76,"au":0.033},{"k":"t","t":39.90,"au":0.12},{"k":"t","t":40.00,"au":0.033},{"k":"t","t":40.06,"au":0.0070},{"k":"t","t":40.15,"au":0.0015},{"k":"t","t":40.27,"au":0.0006},{"k":"t","t":40.48,"au":0.0010},{"k":"t","t":40.57,"au":0.0040},{"k":"t","t":40.64,"au":0.033},{"k":"t","t":40.79,"au":0.12},{"k":"t","t":40.91,"au":0.033},{"k":"t","t":40.98,"au":0.0070},{"k":"t","t":41.06,"au":0.0020},{"k":"t","t":41.13,"au":0.0014},{"k":"t","t":41.23,"au":0.0028},{"k":"t","t":41.317,"au":0.0036},{"k":"t","t":41.42,"au":0.0018},{"k":"t","t":41.54,"au":0.0008},{"k":"t","t":41.80,"au":0.0006},{"k":"t","t":41.92,"au":0.0020},{"k":"t","t":42.02,"au":0.0040},{"k":"t","t":42.125,"au":0.0053},{"k":"t","t":42.22,"au":0.0038},{"k":"t","t":42.33,"au":0.0015},{"k":"t","t":42.47,"au":0.0006},{"k":"t","t":42.54,"au":0.0030},{"k":"t","t":42.60,"au":0.033},{"k":"t","t":42.905,"au":0.12},{"k":"t","t":43.10,"au":0.033},{"k":"t","t":43.18,"au":0.020},{"k":"t","t":43.29,"au":0.014},{"k":"t","t":43.48,"au":0.0080},{"k":"t","t":43.70,"au":0.0054},{"k":"t","t":43.89,"au":0.0040},{"k":"t","t":44.00,"au":0.0037},
  {"k":"p","t":34.248,"au":0.0038,"s":"34.248"},{"k":"p","t":34.754,"au":0.0144,"s":"34.754"},{"k":"p","t":35.306,"au":0.0206,"s":"35.306"},{"k":"p","t":35.787,"au":0.0082,"s":"35.787"},{"k":"p","t":36.055,"au":0.0028,"s":"36.055"},{"k":"p","t":36.42,"au":0.0013,"s":"36.420"},{"k":"p","t":36.657,"au":0.0007,"s":"36.657"},{"k":"p","t":37.15,"au":0.0018,"s":"37.150"},{"k":"p","t":37.665,"au":0.0011,"s":"37.665"},{"k":"p","t":38.068,"au":0.0068,"s":"38.068"},{"k":"p","t":39.111,"au":0.0006,"s":"39.111"},{"k":"p","t":39.516,"au":0.0007,"s":"39.516"},{"k":"p","t":41.317,"au":0.0036,"s":"41.317"},{"k":"p","t":42.125,"au":0.0053,"s":"42.125"},
  {"k":"u","t":38.51,"au":0.03208,"s":"38.483"},{"k":"u","t":39.90,"au":0.03208,"s":"39.908"},{"k":"u","t":40.79,"au":0.03208,"s":"40.770"},{"k":"u","t":42.92,"au":0.03208,"s":"42.905"},
  {"k":"a","t":40.79,"au":0.03208},
  {"k":"c","t":34.08,"au":0.0290,"s":"WT\nAtTRM11, m²G"},
  {"k":"l","t":33.05,"au":0.0319,"s":"D"}
 ]},
 "layer": [
  {"transform": [{"filter": "datum.k=='t'"}], "mark": {"type": "line", "clip": true, "interpolate": "monotone", "color": "black", "strokeWidth": 4, "strokeJoin": "round"},
   "encoding": {"x": {"field": "t", "type": "quantitative", "scale": {"domain": [34, 44], "nice": false, "zero": false}, "axis": {"title": "Minutes", "tickCount": 100, "labelExpr": "abs(datum.value - round(datum.value)) < 0.001 ? format(datum.value, '.2f') : ''"}},
    "y": {"field": "au", "type": "quantitative", "scale": {"domain": [-0.00167, 0.03208], "nice": false, "zero": false}, "axis": {"title": "AU", "format": ".3f", "values": [0, 0.006, 0.012, 0.018, 0.024, 0.03], "titleX": -27, "titleY": 204}}}},
  {"transform": [{"filter": "datum.k=='p'"}], "mark": {"type": "text", "angle": 270, "align": "left", "baseline": "middle", "dx": 3, "dy": 3, "fontSize": 14, "font": "Liberation Sans", "color": "black"},
   "encoding": {"x": {"field": "t", "type": "quantitative"}, "y": {"field": "au", "type": "quantitative"}, "text": {"field": "s", "type": "nominal"}}},
  {"transform": [{"filter": "datum.k=='u'"}], "mark": {"type": "text", "angle": 270, "align": "right", "baseline": "middle", "dx": -4, "dy": 3, "fontSize": 14, "font": "Liberation Sans", "color": "black"},
   "encoding": {"x": {"field": "t", "type": "quantitative"}, "y": {"field": "au", "type": "quantitative"}, "text": {"field": "s", "type": "nominal"}}},
  {"transform": [{"filter": "datum.k=='a'"}], "mark": {"type": "point", "shape": "M-0.544,-2L0.544,-2L0,0Z", "size": 3249, "filled": true, "color": "black", "opacity": 1, "strokeWidth": 0},
   "encoding": {"x": {"field": "t", "type": "quantitative"}, "y": {"field": "au", "type": "quantitative"}}},
  {"transform": [{"filter": "datum.k=='c'"}], "mark": {"type": "text", "align": "left", "baseline": "alphabetic", "font": "Liberation Serif", "fontSize": 34, "lineBreak": "\n", "lineHeight": 41, "color": "black"},
   "encoding": {"x": {"field": "t", "type": "quantitative"}, "y": {"field": "au", "type": "quantitative"}, "text": {"field": "s", "type": "nominal"}}},
  {"transform": [{"filter": "datum.k=='l'"}], "mark": {"type": "text", "align": "left", "baseline": "alphabetic", "font": "Liberation Sans", "fontSize": 60, "fontWeight": "bold", "color": "black"},
   "encoding": {"x": {"field": "t", "type": "quantitative"}, "y": {"field": "au", "type": "quantitative"}, "text": {"field": "s", "type": "nominal"}}}
 ]
},
{"width": 515, "height": 22, "data": {"values": []}, "mark": "point", "view": {"stroke": null}},
{"width": 515, "height": 22, "data": {"values": []}, "mark": "point", "view": {"stroke": null}},
{
 "width": 515, "height": 405,
 "data": {"values": [
  {"k":"t","t":28.00,"au":0.0008},{"k":"t","t":28.10,"au":0.0020},{"k":"t","t":28.20,"au":0.0050},{"k":"t","t":28.28,"au":0.0085},{"k":"t","t":28.364,"au":0.0099},{"k":"t","t":28.44,"au":0.0085},{"k":"t","t":28.52,"au":0.0050},{"k":"t","t":28.60,"au":0.0022},{"k":"t","t":28.70,"au":0.0009},{"k":"t","t":28.90,"au":0.0006},{"k":"t","t":29.60,"au":0.0005},{"k":"t","t":30.60,"au":0.0005},{"k":"t","t":31.10,"au":0.0007},{"k":"t","t":31.25,"au":0.0010},{"k":"t","t":31.35,"au":0.0012},{"k":"t","t":31.45,"au":0.0009},{"k":"t","t":31.60,"au":0.0007},{"k":"t","t":31.70,"au":0.0012},{"k":"t","t":31.76,"au":0.0045},{"k":"t","t":31.82,"au":0.020},{"k":"t","t":31.88,"au":0.033},{"k":"t","t":32.134,"au":0.12},{"k":"t","t":32.25,"au":0.033},{"k":"t","t":32.30,"au":0.017},{"k":"t","t":32.38,"au":0.0069},{"k":"t","t":32.45,"au":0.0100},{"k":"t","t":32.521,"au":0.0129},{"k":"t","t":32.59,"au":0.0095},{"k":"t","t":32.66,"au":0.0045},{"k":"t","t":32.74,"au":0.0012},{"k":"t","t":32.85,"au":0.0006},{"k":"t","t":33.49,"au":0.0006},{"k":"t","t":33.56,"au":0.0028},{"k":"t","t":33.62,"au":0.033},{"k":"t","t":34.094,"au":0.12},{"k":"t","t":34.28,"au":0.033},{"k":"t","t":34.32,"au":0.015},{"k":"t","t":34.40,"au":0.0056},{"k":"t","t":34.48,"au":0.0038},{"k":"t","t":34.56,"au":0.0033},{"k":"t","t":34.65,"au":0.0045},{"k":"t","t":34.73,"au":0.0052},{"k":"t","t":34.80,"au":0.0035},{"k":"t","t":34.88,"au":0.0020},{"k":"t","t":34.95,"au":0.0013},{"k":"t","t":35.00,"au":0.0014},
  {"k":"p","t":28.364,"au":0.0099,"s":"28.364"},{"k":"p","t":32.521,"au":0.0129,"s":"32.521"},{"k":"p","t":34.73,"au":0.0052,"s":"34.730"},
  {"k":"u","t":32.13,"au":0.03251,"s":"32.134"},{"k":"u","t":33.98,"au":0.03251,"s":"34.094"},
  {"k":"a","t":31.35,"au":0.0043},
  {"k":"c","t":28.11,"au":0.0291,"s":"N658418\nAtTRM82, m⁷G"}
 ]},
 "layer": [
  {"transform": [{"filter": "datum.k=='t'"}], "mark": {"type": "line", "clip": true, "interpolate": "monotone", "color": "black", "strokeWidth": 4, "strokeJoin": "round"},
   "encoding": {"x": {"field": "t", "type": "quantitative", "scale": {"domain": [28, 35], "nice": false, "zero": false}, "axis": {"title": "Minutes", "tickCount": 70, "labelExpr": "abs(datum.value - round(datum.value)) < 0.001 ? format(datum.value, '.2f') : ''"}},
    "y": {"field": "au", "type": "quantitative", "scale": {"domain": [-0.00134, 0.03251], "nice": false, "zero": false}, "axis": {"title": "AU", "format": ".3f", "values": [0, 0.006, 0.012, 0.018, 0.024, 0.03], "titleX": -27, "titleY": 208}}}},
  {"transform": [{"filter": "datum.k=='p'"}], "mark": {"type": "text", "angle": 270, "align": "left", "baseline": "middle", "dx": 3, "dy": 3, "fontSize": 14, "font": "Liberation Sans", "color": "black"},
   "encoding": {"x": {"field": "t", "type": "quantitative"}, "y": {"field": "au", "type": "quantitative"}, "text": {"field": "s", "type": "nominal"}}},
  {"transform": [{"filter": "datum.k=='u'"}], "mark": {"type": "text", "angle": 270, "align": "right", "baseline": "middle", "dx": -4, "dy": 3, "fontSize": 14, "font": "Liberation Sans", "color": "black"},
   "encoding": {"x": {"field": "t", "type": "quantitative"}, "y": {"field": "au", "type": "quantitative"}, "text": {"field": "s", "type": "nominal"}}},
  {"transform": [{"filter": "datum.k=='a'"}], "mark": {"type": "point", "shape": "M-0.544,-2L0.544,-2L0,0Z", "size": 3249, "filled": true, "color": "black", "opacity": 1, "strokeWidth": 0},
   "encoding": {"x": {"field": "t", "type": "quantitative"}, "y": {"field": "au", "type": "quantitative"}}},
  {"transform": [{"filter": "datum.k=='c'"}], "mark": {"type": "text", "align": "left", "baseline": "alphabetic", "font": "Liberation Serif", "fontSize": 34, "lineBreak": "\n", "lineHeight": 41, "color": "black"},
   "encoding": {"x": {"field": "t", "type": "quantitative"}, "y": {"field": "au", "type": "quantitative"}, "text": {"field": "s", "type": "nominal"}}}
 ]
},
{
 "width": 515, "height": 404,
 "data": {"values": [
  {"k":"t","t":34.00,"au":0.0051},{"k":"t","t":34.09,"au":0.0028},{"k":"t","t":34.23,"au":0.0020},{"k":"t","t":34.33,"au":0.0035},{"k":"t","t":34.436,"au":0.0048},{"k":"t","t":34.52,"au":0.0020},{"k":"t","t":34.64,"au":0.0005},{"k":"t","t":34.72,"au":0.0008},{"k":"t","t":34.81,"au":0.0010},{"k":"t","t":34.89,"au":0.0005},{"k":"t","t":34.98,"au":0.0022},{"k":"t","t":35.04,"au":0.0050},{"k":"t","t":35.104,"au":0.0067},{"k":"t","t":35.16,"au":0.0035},{"k":"t","t":35.23,"au":0.0008},{"k":"t","t":35.30,"au":0.0001},{"k":"t","t":35.40,"au":0.0040},{"k":"t","t":35.48,"au":0.0120},{"k":"t","t":35.577,"au":0.0216},{"k":"t","t":35.65,"au":0.0120},{"k":"t","t":35.72,"au":0.0040},{"k":"t","t":35.81,"au":0.0008},{"k":"t","t":35.96,"au":0.0003},{"k":"t","t":36.10,"au":0.0014},{"k":"t","t":36.18,"au":0.0030},{"k":"t","t":36.246,"au":0.0037},{"k":"t","t":36.32,"au":0.0020},{"k":"t","t":36.42,"au":0.0006},{"k":"t","t":36.58,"au":0.0001},{"k":"t","t":36.817,"au":0.0002},{"k":"t","t":37.09,"au":-0.0001},{"k":"t","t":37.82,"au":0.0000},{"k":"t","t":38.26,"au":0.0001},{"k":"t","t":38.42,"au":0.0015},{"k":"t","t":38.54,"au":0.0045},{"k":"t","t":38.636,"au":0.0063},{"k":"t","t":38.71,"au":0.0045},{"k":"t","t":38.76,"au":0.0037},{"k":"t","t":38.82,"au":0.0080},{"k":"t","t":38.88,"au":0.033},{"k":"t","t":39.078,"au":0.12},{"k":"t","t":39.22,"au":0.033},{"k":"t","t":39.27,"au":0.013},{"k":"t","t":39.33,"au":0.0040},{"k":"t","t":39.40,"au":0.0011},{"k":"t","t":39.66,"au":0.0008},{"k":"t","t":40.10,"au":0.0004},{"k":"t","t":40.32,"au":0.0008},{"k":"t","t":40.38,"au":0.0060},{"k":"t","t":40.45,"au":0.033},{"k":"t","t":40.633,"au":0.12},{"k":"t","t":40.75,"au":0.033},{"k":"t","t":40.80,"au":0.0090},{"k":"t","t":40.88,"au":0.0018},{"k":"t","t":41.00,"au":0.0008},{"k":"t","t":41.12,"au":0.0006},{"k":"t","t":41.30,"au":0.0015},{"k":"t","t":41.43,"au":0.0030},{"k":"t","t":41.552,"au":0.0039},{"k":"t","t":41.65,"au":0.0020},{"k":"t","t":41.74,"au":0.0007},{"k":"t","t":41.85,"au":0.0005},{"k":"t","t":42.02,"au":0.0012},{"k":"t","t":42.10,"au":0.0020},{"k":"t","t":42.167,"au":0.0024},{"k":"t","t":42.24,"au":0.0015},{"k":"t","t":42.33,"au":0.0006},{"k":"t","t":42.51,"au":0.0005},{"k":"t","t":42.62,"au":0.0020},{"k":"t","t":42.75,"au":0.0040},{"k":"t","t":42.866,"au":0.0046},{"k":"t","t":42.97,"au":0.0025},{"k":"t","t":43.07,"au":0.0010},{"k":"t","t":43.16,"au":0.0008},{"k":"t","t":43.24,"au":0.0050},{"k":"t","t":43.30,"au":0.033},{"k":"t","t":43.662,"au":0.12},{"k":"t","t":44.00,"au":0.12},
  {"k":"p","t":34.436,"au":0.0048,"s":"34.436"},{"k":"p","t":34.81,"au":0.0010,"s":"34.810"},{"k":"p","t":35.104,"au":0.0067,"s":"35.104"},{"k":"p","t":35.577,"au":0.0216,"s":"35.577"},{"k":"p","t":36.246,"au":0.0037,"s":"36.246"},{"k":"p","t":36.817,"au":0.0002,"s":"36.817"},{"k":"p","t":38.636,"au":0.0063,"s":"38.636"},{"k":"p","t":41.552,"au":0.0039,"s":"41.552"},{"k":"p","t":42.167,"au":0.0024,"s":"42.167"},{"k":"p","t":42.866,"au":0.0046,"s":"42.866"},
  {"k":"u","t":39.11,"au":0.03084,"s":"39.078"},{"k":"u","t":40.61,"au":0.03084,"s":"40.633"},{"k":"u","t":43.68,"au":0.03084,"s":"43.662"},
  {"k":"a","t":41.56,"au":0.0073},
  {"k":"c","t":34.36,"au":0.0277,"s":"N622158\nAtTRM11, m²G"}
 ]},
 "layer": [
  {"transform": [{"filter": "datum.k=='t'"}], "mark": {"type": "line", "clip": true, "interpolate": "monotone", "color": "black", "strokeWidth": 4, "strokeJoin": "round"},
   "encoding": {"x": {"field": "t", "type": "quantitative", "scale": {"domain": [34, 44], "nice": false, "zero": false}, "axis": {"title": "Minutes", "tickCount": 100, "labelExpr": "abs(datum.value - round(datum.value)) < 0.001 ? format(datum.value, '.2f') : ''"}},
    "y": {"field": "au", "type": "quantitative", "scale": {"domain": [-0.0032, 0.03084], "nice": false, "zero": false}, "axis": {"title": "AU", "format": ".3f", "values": [0, 0.006, 0.012, 0.018, 0.024, 0.03], "titleX": -29, "titleY": 204}}}},
  {"transform": [{"filter": "datum.k=='p'"}], "mark": {"type": "text", "angle": 270, "align": "left", "baseline": "middle", "dx": 3, "dy": 3, "fontSize": 14, "font": "Liberation Sans", "color": "black"},
   "encoding": {"x": {"field": "t", "type": "quantitative"}, "y": {"field": "au", "type": "quantitative"}, "text": {"field": "s", "type": "nominal"}}},
  {"transform": [{"filter": "datum.k=='u'"}], "mark": {"type": "text", "angle": 270, "align": "right", "baseline": "middle", "dx": -4, "dy": 3, "fontSize": 14, "font": "Liberation Sans", "color": "black"},
   "encoding": {"x": {"field": "t", "type": "quantitative"}, "y": {"field": "au", "type": "quantitative"}, "text": {"field": "s", "type": "nominal"}}},
  {"transform": [{"filter": "datum.k=='a'"}], "mark": {"type": "point", "shape": "M-0.544,-2L0.544,-2L0,0Z", "size": 3249, "filled": true, "color": "black", "opacity": 1, "strokeWidth": 0},
   "encoding": {"x": {"field": "t", "type": "quantitative"}, "y": {"field": "au", "type": "quantitative"}}},
  {"transform": [{"filter": "datum.k=='c'"}], "mark": {"type": "text", "align": "left", "baseline": "alphabetic", "font": "Liberation Serif", "fontSize": 34, "lineBreak": "\n", "lineHeight": 41, "color": "black"},
   "encoding": {"x": {"field": "t", "type": "quantitative"}, "y": {"field": "au", "type": "quantitative"}, "text": {"field": "s", "type": "nominal"}}}
 ]
}
]
}
